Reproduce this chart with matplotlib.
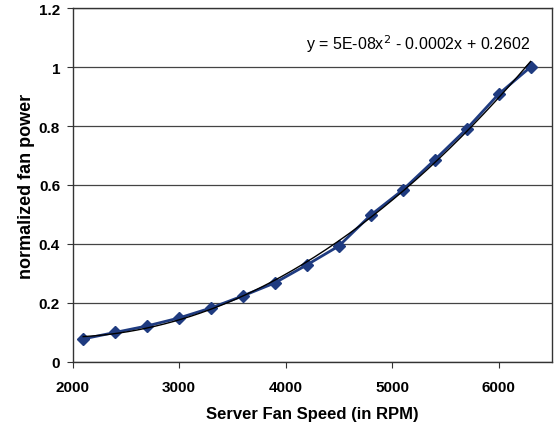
import numpy as np
import matplotlib
matplotlib.use("Agg")
import matplotlib.pyplot as plt

plt.rcParams['font.family'] = ['Liberation Sans', 'DejaVu Sans']

fan_speed = [2100, 2400, 2700, 3000, 3300, 3600, 3900, 4200, 4500, 4800, 5100, 5400, 5700, 6000, 6300]
fan_power = [0.078, 0.100, 0.122, 0.149, 0.183, 0.224, 0.268, 0.329, 0.393, 0.498, 0.583, 0.685, 0.790, 0.908, 1.000]
x_ticks = [2000, 3000, 4000, 5000, 6000]
y_ticks = [0, 0.2, 0.4, 0.6, 0.8, 1, 1.2]
y_tick_labels = ['0', '0.2', '0.4', '0.6', '0.8', '1', '1.2']
equation = r'y = 5E-08x$^2$ - 0.0002x + 0.2602'

fig = plt.figure(figsize=(5.58, 4.31), dpi=100)
ax = fig.add_axes([0.130, 0.158, 0.859, 0.821])

ax.plot(fan_speed, fan_power, color='#1f3b80', lw=2.0, marker='D', ms=6,
        markerfacecolor='#1f3b80', markeredgecolor='#1f3b80', zorder=3)

coef = np.polyfit(fan_speed, fan_power, 2)
xs = np.linspace(min(fan_speed), max(fan_speed), 200)
ax.plot(xs, np.polyval(coef, xs), color='black', lw=1.0, zorder=4)

ax.set_xlim(2000, 6500)
ax.set_ylim(0, 1.2)
ax.set_xticks(x_ticks)
ax.set_yticks(y_ticks)
ax.set_yticklabels(y_tick_labels)
ax.grid(axis='y', color='#444444', lw=0.9)
ax.set_axisbelow(True)
for s in ax.spines.values():
    s.set_color('#333333')
    s.set_linewidth(1.0)
ax.tick_params(axis='both', direction='out', length=4, color='#333333',
               labelsize=11)
ax.tick_params(axis='x', pad=9)
ax.tick_params(axis='y', pad=5)
for lab in ax.get_xticklabels() + ax.get_yticklabels():
    lab.set_fontweight('bold')

ax.set_xlabel('Server Fan Speed (in RPM)', fontsize=12, fontweight='bold', labelpad=9)
ax.set_ylabel('normalized fan power', fontsize=13, fontweight='bold', labelpad=3)

ax.text(0.955, 0.885, equation, transform=ax.transAxes, ha='right', va='baseline',
        fontsize=11.5)

fig.savefig('out.png', dpi=100)
